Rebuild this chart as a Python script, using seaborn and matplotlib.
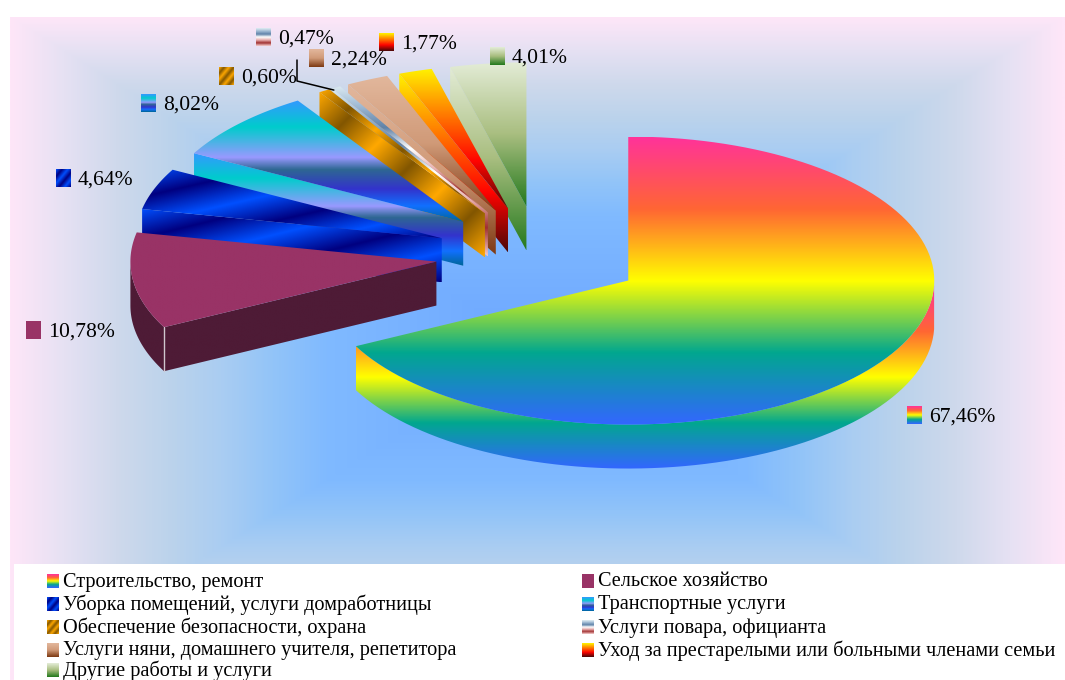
#!/usr/bin/env python3
import numpy as np
import matplotlib
matplotlib.use("Agg")
import matplotlib.pyplot as plt
from matplotlib.patches import Polygon, Rectangle
import seaborn as sns

# chart data
categories = [
    "Строительство, ремонт",
    "Сельское хозяйство",
    "Уборка помещений, услуги домработницы",
    "Транспортные услуги",
    "Обеспечение безопасности, охрана",
    "Услуги повара, официанта",
    "Услуги няни, домашнего учителя, репетитора",
    "Уход за престарелыми или больными членами семьи",
    "Другие работы и услуги",
]
shares = [67.46, 10.78, 4.64, 8.02, 0.60, 0.47, 2.24, 1.77, 4.01]

# fills: colours, stop positions (None = even), diagonal or vertical
fills = [
    (["#FF3399", "#FF6633", "#FFFF00", "#01A78F", "#3366FF"], None, False),
    (["#993366", "#993366"], None, False),
    (["#0050FF", "#000080", "#0050FF", "#000080", "#0050FF", "#000080"], None, True),
    (["#3399FF", "#00CCCC", "#9999FF", "#2E6792", "#3333CC", "#1170FF", "#006699"],
     [0, 0.22, 0.47, 0.57, 0.73, 0.87, 1], False),
    (["#FFA800", "#825600", "#FFA800", "#825600", "#FFA800", "#825600", "#FFA800"], None, True),
    (["#DDEBF2", "#9DB8D2", "#5F82A8", "#FFFFFF", "#E8B0B0", "#A03030", "#F2C8C8"], None, False),
    (["#E2B79C", "#D09A78", "#7E3A14"], None, False),
    (["#FFF200", "#FF7A00", "#FF0300", "#4D0808"], None, False),
    (["#E3ECD6", "#A9BE80", "#257A1E"], None, False),
]
side_colour = "#4E1B36"

bg_colours = ["#6CA6FF", "#80BAFF", "#92C4F8", "#AACDF2", "#BCD3EB", "#CFD9EC", "#E6E1F3", "#FEE6F8"]
bg_stops = [0, 0.4, 0.5, 0.6, 0.7, 0.8, 0.9, 1]

# layout, in pixels
base_x, base_y = 539.5, 255
rx, ry, depth = 306, 144, 44
explode = 0.34
label_pos = [(907, 415), (26, 330), (56, 178), (141, 103), (219, 76), (256, 37), (309, 58), (379, 42), (490, 56)]
legend_x = [47, 582]
legend_y = [581, 604, 627, 650, 670]

sns.set_theme(style="white")
plt.rcParams["font.family"] = ["Liberation Serif", "DejaVu Serif"]

fig = plt.figure(figsize=(10.65, 6.8), dpi=100)
ax = fig.add_axes([0, 0, 1, 1])
ax.set_xlim(0, 1065)
ax.set_ylim(680, 0)
ax.axis("off")
ax.autoscale(False)


def paint(verts, fill, zorder):
    colours, stops, diagonal = fill
    verts = np.asarray(verts)
    x0, y0 = verts.min(axis=0)
    x1, y1 = verts.max(axis=0)
    h = max(int(y1 - y0) * 2, 2)
    w = max(int(x1 - x0) * 2, 2) if diagonal else 2
    yy, xx = np.mgrid[0:1:h * 1j, 0:1:w * 1j]
    t = (xx + yy) / 2 if diagonal else yy
    if stops is not None:
        t = np.interp(t, stops, np.linspace(0, 1, len(stops)))
    cmap = sns.blend_palette(colours, as_cmap=True)
    im = ax.imshow(t, cmap=cmap, vmin=0, vmax=1, extent=(x0, x1, y1, y0),
                   aspect="auto", interpolation="bilinear", zorder=zorder)
    im.set_clip_path(Polygon(verts, closed=True, transform=ax.transData))


# background
yy, xx = np.mgrid[17:680:400j, 10:1065:600j]
norm = np.maximum(np.abs(xx - 537) / 527, np.abs(yy - 348) / 332)
ax.imshow(np.interp(norm, bg_stops, np.linspace(0, 1, len(bg_stops))),
          cmap=sns.blend_palette(bg_colours, as_cmap=True), vmin=0, vmax=1,
          extent=(10, 1065, 680, 17), aspect="auto", zorder=0)
ax.add_patch(Rectangle((14, 564), 1051, 116, color="white", lw=0, zorder=1))

# slices, back to front
edges = np.cumsum([0] + shares) / sum(shares) * 2 * np.pi
order = list(range(len(shares) - 1, -1, -1))
for z, i in enumerate(order):
    a0, a1 = edges[i], edges[i + 1]
    mid = (a0 + a1) / 2
    cx = base_x + explode * rx * np.sin(mid)
    cy = base_y - explode * ry * np.cos(mid)
    t = np.linspace(a0, a1, 120)
    arc = np.column_stack([cx + rx * np.sin(t), cy - ry * np.cos(t)])
    centre = np.array([cx, cy])
    drop = np.array([0, depth])
    fill = fills[i]
    if i == 1:
        fill_side = ([side_colour, side_colour], None, False)
    else:
        fill_side = fill
    zbase = 2 + z * 3

    # cut face along the leading edge
    if i > 0:
        paint([centre, arc[0], arc[0] + drop, centre + drop], fill_side, zbase)
    # outer wall, only where it faces the viewer
    low = np.cos(t) < 0
    if low.any():
        wall = arc[low]
        paint(np.vstack([wall, (wall + drop)[::-1]]), fill_side, zbase + 1)
    paint(np.vstack([centre, arc]), fill, zbase + 2)

    if i == 1:
        ax.plot([arc[0][0]] * 2, [arc[0][1], arc[0][1] + depth], color="#CFC6CE", lw=1, zorder=zbase + 2)

# leader line for the small slice
a_mid = edges[5] + 0.2 * (edges[6] - edges[5])
mid_6 = (edges[5] + edges[6]) / 2
tip_x = base_x + (explode * np.sin(mid_6) + np.sin(a_mid)) * rx
tip_y = base_y - (explode * np.cos(mid_6) + np.cos(a_mid)) * ry
ax.plot([297, 297, tip_x], [60, 81, tip_y + 2], color="black", lw=1.1, zorder=60)

# data labels
for i, (lx, ly) in enumerate(label_pos):
    paint([(lx, ly - 9), (lx + 15, ly - 9), (lx + 15, ly + 9), (lx, ly + 9)], fills[i], 61)
    ax.text(lx + 22, ly + 2.5, f"{shares[i]:.2f}%".replace(".", ","), fontsize=15.6,
            ha="left", va="center", color="black", zorder=62)

# legend
for i, name in enumerate(categories):
    lx = legend_x[i % 2]
    ly = legend_y[i // 2]
    paint([(lx, ly - 7), (lx + 12, ly - 7), (lx + 12, ly + 7), (lx, ly + 7)], fills[i], 61)
    ax.text(lx + 16, ly + 1, name, fontsize=14.55, ha="left", va="center", color="black", zorder=62)

fig.savefig("out.png", dpi=100)
